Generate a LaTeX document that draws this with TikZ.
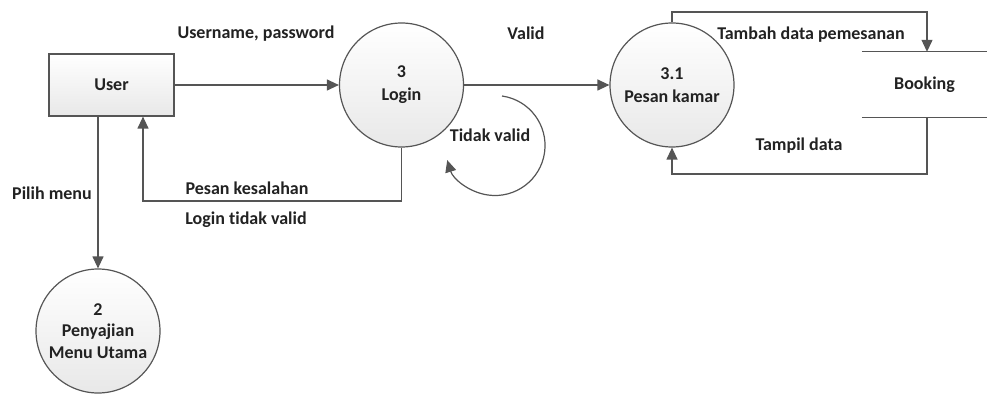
\documentclass[tikz,border=0pt]{standalone}
\usepackage{fontspec}
\setmainfont{Carlito}[Ligatures=NoCommon]
\usetikzlibrary{positioning,arrows.meta}
\definecolor{linegray}{HTML}{555555}
\definecolor{textgray}{HTML}{222222}
\tikzset{
	proc/.style={circle,draw=linegray,line width=1.2pt,top color=white,bottom color=gray!18,minimum size=124pt,inner sep=0pt,align=center,font=\bfseries\fontsize{18}{23}\selectfont,text=textgray},
	entity/.style={rectangle,draw=linegray,line width=1.2pt,top color=white,bottom color=gray!18,minimum width=125pt,minimum height=62pt,font=\bfseries\fontsize{18}{23}\selectfont,text=textgray},
	store/.style={minimum width=125pt,minimum height=65pt,font=\bfseries\fontsize{18}{23}\selectfont,text=textgray},
	flow/.style={draw=linegray,line width=1.2pt,-{Triangle[length=12pt,width=11pt]}},
	lbl/.style={font=\bfseries\fontsize{18}{23}\selectfont,text=textgray,inner sep=0pt}
}

\begin{document}
\begin{tikzpicture}[x=1pt,y=1pt]
		\useasboundingbox (0,0) rectangle (987,394);
		% nodes
		\node (user) at (111.5,309) [entity]{User};
		\node (login) at (401.5,309) [proc]{3\\Login};
		\node (pesan) at (672,309) [proc]{3.1\\Pesan kamar};
		\node (menu) at (98,63) [proc,font=\bfseries\fontsize{18}{21.5}\selectfont]{2\\Penyajian\\Menu Utama};
		\node (booking) at (924.5,309.5) [store]{Booking};
		\draw [linegray,line width=1.2pt] (booking.north west)--(booking.north east);
		\draw [linegray,line width=1.2pt] (booking.south west)--(booking.south east);
		
		% flows
		\coordinate (back) at (143,193);
		\coordinate (up) at (927,382);
		\coordinate (down) at (927,220);
		\coordinate (loop) at (502,298);
		\draw [flow] (user)--(login);
		\draw [flow] (login)--(pesan);
		\draw [flow] (user.south -| menu.north)--(menu.north);
		\draw [flow] (login.south) |- (back)--(back |- user.south);
		\draw [flow] (pesan.north) |- (up)--(up |- booking.north);
		\draw [flow] (down |- booking.south)--(down) -| (pesan.south);
		\draw [flow] (loop) arc[start angle=82,end angle=-163,radius=50];
		
		% labels
		\node (l1) at (256,360) [lbl]{Username, password};
		\node (l2) at (526,361) [lbl]{Valid};
		\node (l3) at (490,259) [lbl]{Tidak valid};
		\node (l4) at (247,206) [lbl]{Pesan kesalahan};
		\node (l5) at (246,174) [lbl]{Login tidak valid};
		\node (l6) at (52,201) [lbl]{Pilih menu};
		\node (l7) at (811,359) [lbl]{Tambah data pemesanan};
		\node (l8) at (799,248) [lbl]{Tampil data};
		
	\end{tikzpicture}
\end{document}
